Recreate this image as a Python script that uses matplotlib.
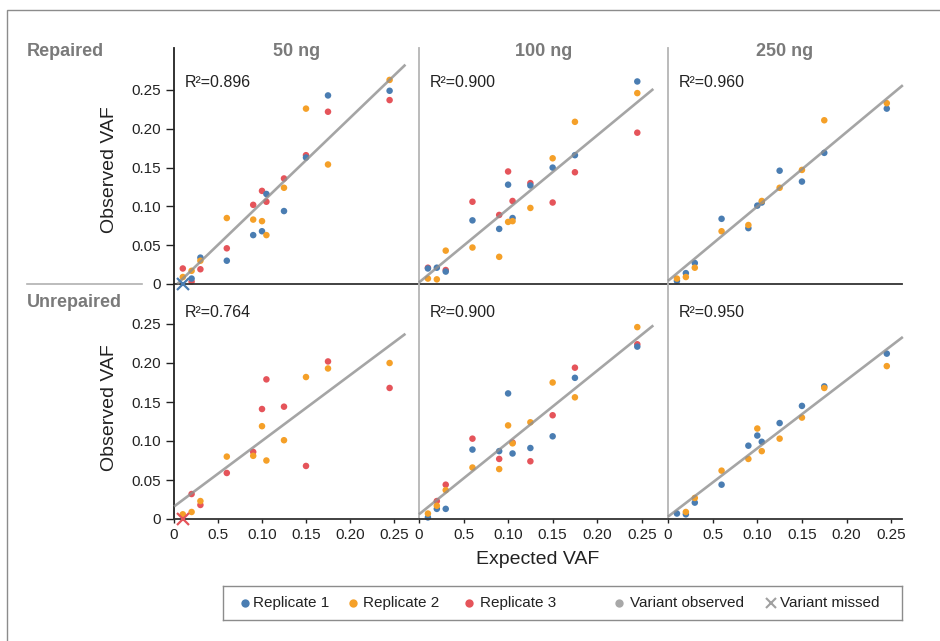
import matplotlib
matplotlib.use("Agg")
import matplotlib.pyplot as plt
from matplotlib.patches import Rectangle
import numpy as np

plt.rcParams['font.family'] = ['Liberation Sans', 'DejaVu Sans']

# expected VAF of the spiked-in variants (same for every panel)
expected = [0.01, 0.02, 0.03, 0.06, 0.09, 0.10, 0.105, 0.125, 0.15, 0.175, 0.245]

# observed VAF per replicate, 0 = variant missed, nan = not shown
nan = np.nan
rep50_r1 = [0.0, 0.007, 0.034, 0.030, 0.063, 0.068, 0.116, 0.094, 0.163, 0.243, 0.249]
rep50_r2 = [0.009, 0.017, 0.030, 0.085, 0.083, 0.081, 0.063, 0.124, 0.226, 0.154, 0.263]
rep50_r3 = [0.020, 0.003, 0.019, 0.046, 0.102, 0.120, 0.106, 0.136, 0.166, 0.222, 0.237]

rep100_r1 = [0.020, 0.021, 0.016, 0.082, 0.071, 0.128, 0.085, 0.127, 0.150, 0.166, 0.261]
rep100_r2 = [0.007, 0.006, 0.043, 0.047, 0.035, 0.080, 0.081, 0.098, 0.162, 0.209, 0.246]
rep100_r3 = [0.021, nan, 0.018, 0.106, 0.089, 0.145, 0.107, 0.130, 0.105, 0.144, 0.195]

rep250_r1 = [0.004, 0.014, 0.027, 0.084, 0.072, 0.101, 0.105, 0.146, 0.132, 0.169, 0.226]
rep250_r2 = [0.007, 0.009, 0.021, 0.068, 0.076, nan, 0.107, 0.124, 0.147, 0.211, 0.233]

unrep50_r2 = [0.006, 0.009, 0.023, 0.080, 0.081, 0.119, 0.075, 0.101, 0.182, 0.193, 0.200]
unrep50_r3 = [0.0, 0.032, 0.018, 0.059, 0.086, 0.141, 0.179, 0.144, 0.068, 0.202, 0.168]

unrep100_r1 = [0.002, 0.013, 0.013, 0.089, 0.087, 0.161, 0.084, 0.091, 0.106, 0.181, 0.221]
unrep100_r2 = [0.007, 0.017, 0.037, 0.066, 0.064, 0.120, 0.097, 0.124, 0.175, 0.156, 0.246]
unrep100_r3 = [nan, 0.023, 0.044, 0.103, 0.077, nan, 0.098, 0.074, 0.133, 0.194, 0.224]

unrep250_r1 = [0.007, 0.006, 0.021, 0.044, 0.094, 0.107, 0.099, 0.123, 0.145, 0.170, 0.212]
unrep250_r2 = [nan, 0.009, 0.027, 0.062, 0.077, 0.116, 0.087, 0.103, 0.130, 0.168, 0.196]

# linear fits (slope, intercept) and R^2 per panel, row-major
fit_slope = [1.09, 0.948, 0.959, 0.842, 0.921, 0.876]
fit_intercept = [-0.004, 0.002, 0.004, 0.016, 0.006, 0.003]
fit_xmax = 0.263
r2_values = [0.896, 0.900, 0.960, 0.764, 0.900, 0.950]

col_titles = ["50 ng", "100 ng", "250 ng"]
row_titles = ["Repaired", "Unrepaired"]
ticks = [0, 0.05, 0.10, 0.15, 0.20, 0.25]
x_ticklabels = ["0", "0.5", "0.10", "0.15", "0.20", "0.25"]
y_ticklabels = ["0", "0.05", "0.10", "0.15", "0.20", "0.25"]

blue, orange, red = "#4a7db2", "#f5a028", "#e5545a"
gray_title = "#7a7a7a"
dark = "#222222"

panel_series = [
    [(rep50_r3, red), (rep50_r1, blue), (rep50_r2, orange)],
    [(rep100_r3, red), (rep100_r1, blue), (rep100_r2, orange)],
    [(rep250_r1, blue), (rep250_r2, orange)],
    [(unrep50_r3, red), (unrep50_r2, orange)],
    [(unrep100_r3, red), (unrep100_r1, blue), (unrep100_r2, orange)],
    [(unrep250_r1, blue), (unrep250_r2, orange)],
]

W, H = 940, 641
fig = plt.figure(figsize=(W / 100, H / 100), dpi=100)

def px_box(x0, y0, x1, y1):
    return [x0 / W, 1 - y1 / H, (x1 - x0) / W, (y1 - y0) / H]

# panel layout in pixels and pixels per VAF unit
col_px = [(174, 419), (419, 668), (668, 902)]
col_scale = [880, 891, 893]
row_px = [(48, 284), (284, 519)]
row_scale = [776, 780]

# outer frame
fig.add_artist(Rectangle((7 / W, -0.1), 1.2, 1 - 10 / H + 0.1, transform=fig.transFigure,
                         fill=False, edgecolor="#8c8c8c", lw=1.0))

exp = np.array(expected)
for i, series in enumerate(panel_series):
    r, c = divmod(i, 3)
    x0, x1 = col_px[c]
    y0, y1 = row_px[r]
    ax = fig.add_axes(px_box(x0, y0, x1, y1))
    ax.set_xlim(0, (x1 - x0) / col_scale[c])
    ax.set_ylim(0, (y1 - y0) / row_scale[r])
    ax.patch.set_alpha(0)

    for vals, color in series:
        v = np.array(vals, dtype=float)
        seen = v > 0
        missed = v == 0
        ax.scatter(exp[seen], v[seen], s=22, color=color, edgecolors="none",
                   zorder=2, clip_on=False)
        if missed.any():
            ax.plot(exp[missed], v[missed], "x", color=color, ms=8, mew=1.6,
                    zorder=4, clip_on=False)

    # regression line drawn over the points
    m, b = fit_slope[i], fit_intercept[i]
    xs = np.array([max(0.0, -b / m), fit_xmax])
    ax.plot(xs, m * xs + b, color="#8f8f8f", alpha=0.8, lw=1.9,
            solid_capstyle="butt", zorder=3, clip_on=False)

    ax.text(11 / (x1 - x0), 1 - (35 if r == 0 else 29) / (y1 - y0),
            "R\u00b2=%.3f" % r2_values[i], transform=ax.transAxes,
            fontsize=11.5, color=dark, va="center", ha="left")

    for side in ["top", "right"]:
        ax.spines[side].set_visible(False)
    ax.spines["bottom"].set_color("#333333")
    ax.spines["bottom"].set_linewidth(1.3)
    ax.spines["left"].set_linewidth(1.3)
    ax.spines["left"].set_color(dark if c == 0 else "#b5b5b5")

    if c == 0:
        ax.set_yticks(ticks)
        ax.set_yticklabels(y_ticklabels)
        ax.tick_params(axis="y", length=5.5, width=1, color=dark, pad=4,
                       labelsize=11, labelcolor=dark)
    else:
        ax.set_yticks([])
    if r == 1:
        ax.set_xticks(ticks)
        ax.set_xticklabels(x_ticklabels)
        ax.tick_params(axis="x", length=3.2, width=1, color=dark, pad=3.5,
                       labelsize=11, labelcolor=dark)
    else:
        ax.set_xticks([])

# column and row headers
for c, title in enumerate(col_titles):
    x0, x1 = col_px[c]
    fig.text((x0 + x1) / 2 / W, 1 - 52 / H, title, fontsize=13, fontweight="bold",
             color=gray_title, ha="center", va="center")
fig.text(27 / W, 1 - 52 / H, row_titles[0], fontsize=13, fontweight="bold",
         color=gray_title, ha="left", va="center")
fig.text(27 / W, 1 - 303 / H, row_titles[1], fontsize=13, fontweight="bold",
         color=gray_title, ha="left", va="center")
fig.add_artist(plt.Line2D([27 / W, 142 / W], [1 - 284 / H, 1 - 284 / H],
                          transform=fig.transFigure, color="#b0b0b0", lw=1.2))

# axis titles
for yc in (170, 408):
    fig.text(110 / W, 1 - yc / H, "Observed VAF", fontsize=14, color=dark,
             rotation=90, ha="center", va="center")
fig.text(538 / W, 1 - 560 / H, "Expected VAF", fontsize=14, color=dark,
         ha="center", va="center")

# legend box
lx0, ly0, lx1, ly1 = 223, 586, 902, 620
lax = fig.add_axes(px_box(lx0, ly0, lx1, ly1))
lax.set_xlim(lx0, lx1)
lax.set_ylim(ly1, ly0)
lax.set_xticks([])
lax.set_yticks([])
for s in lax.spines.values():
    s.set_color("#8c8c8c")
    s.set_linewidth(1.0)
legend_items = [
    ("Replicate 1", "o", blue, 245, 253),
    ("Replicate 2", "o", orange, 353, 363),
    ("Replicate 3", "o", red, 469, 480),
    ("Variant observed", "o", "#a8a8a8", 619, 630),
    ("Variant missed", "x", "#a0a0a0", 771, 780),
]
ymid = 603
for label, mk, color, mx, tx in legend_items:
    if mk == "o":
        lax.plot([mx], [ymid], "o", color=color, ms=6, mec="none")
    else:
        lax.plot([mx], [ymid], "x", color=color, ms=7, mew=1.5)
    lax.text(tx, ymid, label, fontsize=11, color=dark, ha="left", va="center")

fig.savefig("out.png", dpi=100)
